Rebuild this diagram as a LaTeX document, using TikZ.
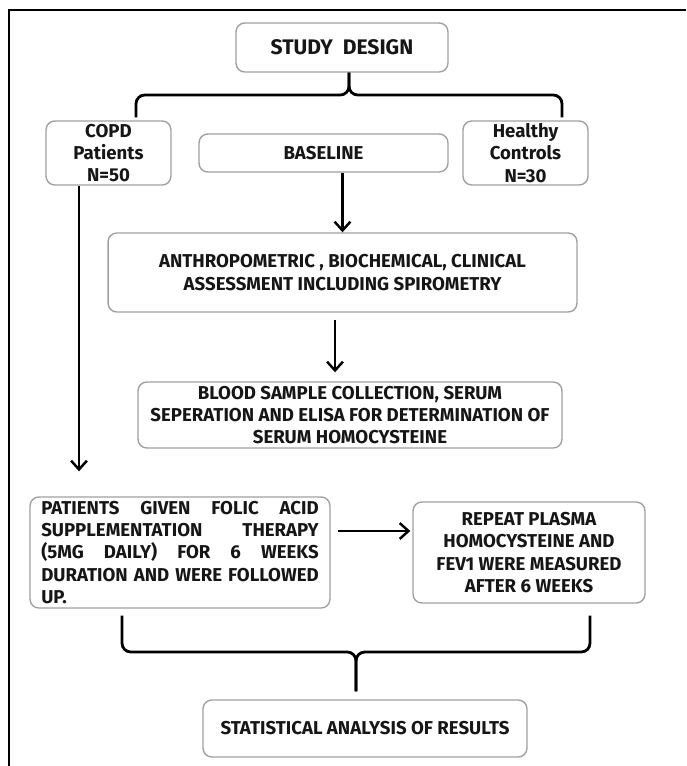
\documentclass[tikz,border=0pt]{standalone}
\usepackage{fontspec}
\setmainfont{Fira Sans}
\usetikzlibrary{arrows.meta, calc}
\definecolor{edge}{HTML}{A0A0A0}
\definecolor{ink}{HTML}{161616}

\begin{document}
\begin{tikzpicture}[
    x=0.02cm, y=-0.02cm,
    every node/.style={font=\bfseries\fontsize{10.6}{12.6}\selectfont, text=ink},
    box/.style={rectangle, rounded corners=5pt, draw=edge, line width=0.8pt,
                fill=white, align=center, inner sep=1pt},
    arr/.style={-{Straight Barb[length=5pt, width=9pt]}, line width=1.4pt},
    brk/.style={line width=1.6pt, rounded corners=5pt},
]
\useasboundingbox (0,0) rectangle (686,766);

% frame
\draw[line width=0.8pt] (686,10) -- (9,10) -- (9,766);

% top row
\node[box, minimum width=4.24cm, minimum height=0.98cm,
      font=\bfseries\fontsize{12}{14}\selectfont] (sd) at (342,47.5) {STUDY\ \ DESIGN};
\node[box, minimum width=2.5cm, minimum height=1.28cm] (copd) at (108.5,153)
    {COPD\\ Patients\\ N=50};
\node[box, minimum width=4.98cm, minimum height=0.76cm] (base) at (323.5,153) {BASELINE};
\node[box, minimum width=2.5cm, minimum height=1.28cm] (hc) at (525.5,153)
    {Healthy\\ Controls\\ N=30};

% assessment chain
\node[box, minimum width=9.38cm, minimum height=1.58cm] (anth) at (342.5,272.5)
    {ANTHROPOMETRIC , BIOCHEMICAL, CLINICAL\\ ASSESSMENT INCLUDING SPIROMETRY};
\node[box, minimum width=8.48cm, minimum height=1.32cm] (blood) at (350,415)
    {BLOOD SAMPLE COLLECTION, SERUM\\ SEPERATION AND ELISA FOR DETERMINATION OF\\ SERUM HOMOCYSTEINE};

% follow up
\node[box, minimum width=6.0cm, minimum height=2.22cm, text width=5.55cm, align=left] (pat) at (180,552.5)
    {PATIENTS\hfill GIVEN\hfill FOLIC\hfill ACID\\
     SUPPLEMENTATION\hfill THERAPY\\
     (5MG\hfill DAILY)\hfill FOR\hfill 6\hfill WEEKS\\
     DURATION\hfill AND\hfill WERE\hfill FOLLOWED\\
     UP.};
\node[box, minimum width=4.64cm, minimum height=2.02cm] (rep) at (529,552.5)
    {REPEAT PLASMA\\ HOMOCYSTEINE AND\\ FEV1 WERE MEASURED\\ AFTER 6 WEEKS};
\node[box, minimum width=6.48cm, minimum height=1.14cm] (stat) at (365,728.5)
    {STATISTICAL ANALYSIS OF RESULTS};

% bracket coordinates
\coordinate (tj) at (349,95);
\coordinate (tl) at (136,95);
\coordinate (tr) at (562,95);
\coordinate (bj) at (356,652);
\coordinate (bl) at (122,652);
\coordinate (br) at (590,652);
\coordinate (px) at (79,0);
\coordinate (ax) at (335,0);
\coordinate (ay) at (0,531);

% top bracket
\draw[brk] ($(copd.north -| tl)+(0,-3)$) -- (tl) -- (tj) -- (sd.south -| tj);
\draw[brk] ($(hc.north -| tr)+(0,-3)$) -- (tr) -- (tj) -- (sd.south -| tj);

% arrows
\draw[arr] (base.south -| anth.north) -- (anth.north);
\draw[arr, shorten <=4pt] (anth.south -| ax) -- ($(blood.north -| ax)+(0,-9)$);
\draw[arr] (copd.south -| px) -- ($(pat.north -| px)+(0,-25)$);
\draw[arr, shorten <=4pt] (pat.east |- ay) -- ($(rep.west |- ay)+(-2,0)$);

% bottom bracket
\draw[brk] ($(pat.south -| bl)+(0,7)$) -- (bl) -- (bj) -- ($(stat.north -| bj)+(0,-8)$);
\draw[brk] ($(rep.south -| br)+(0,12)$) -- (br) -- (bj) -- ($(stat.north -| bj)+(0,-8)$);
\end{tikzpicture}
\end{document}
